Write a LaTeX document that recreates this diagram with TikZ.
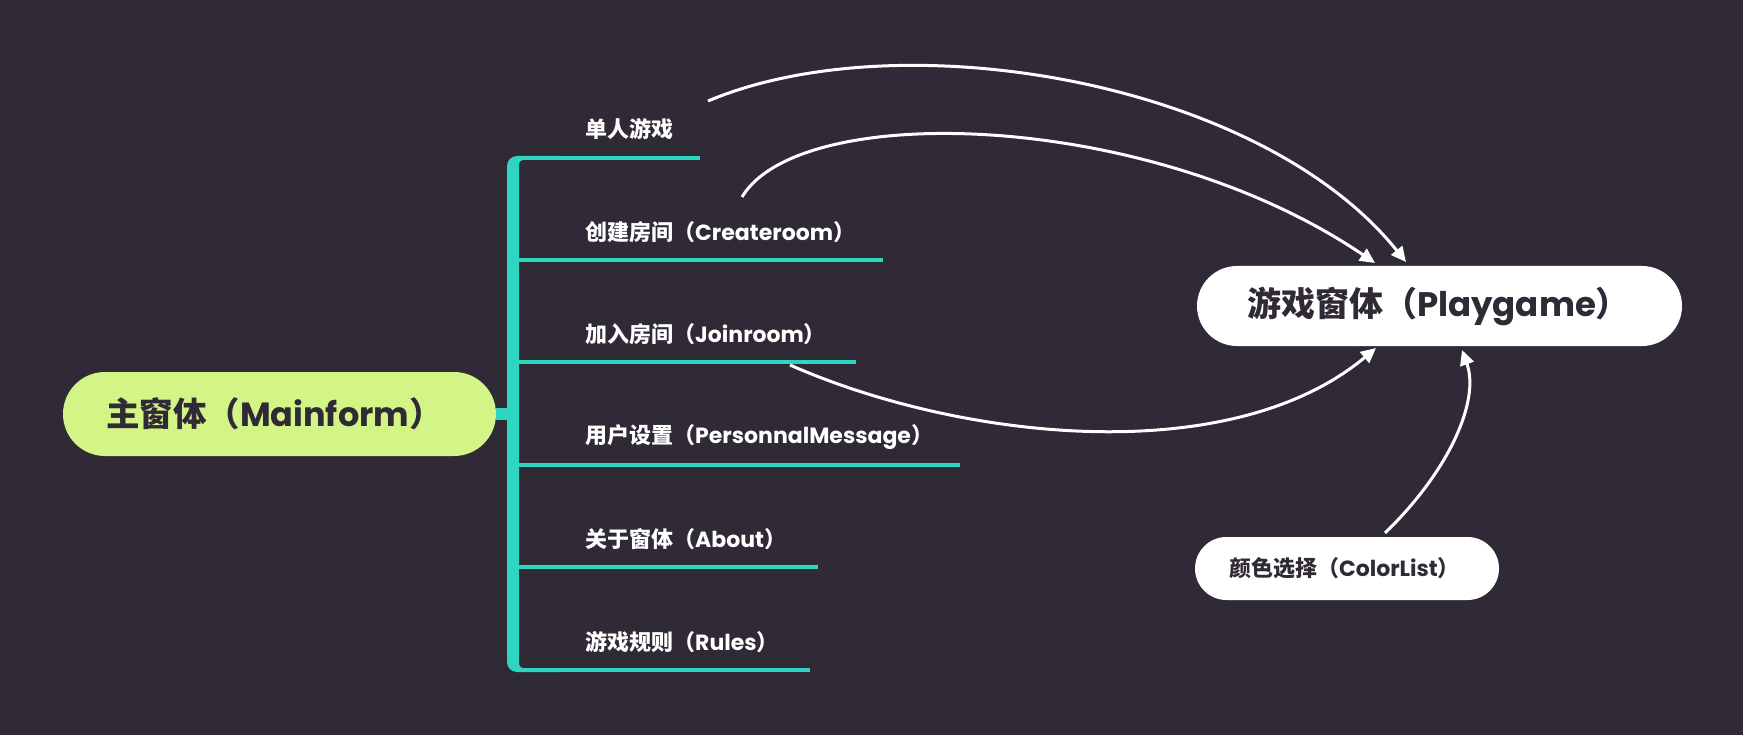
\documentclass[tikz,border=0pt]{standalone}
\usepackage{fontspec}
\usetikzlibrary{arrows.meta}
\setmainfont{Poppins}
\newfontfamily\cjk{Noto Sans CJK SC}
\newfontfamily\lat{Poppins}
\definecolor{bg}{HTML}{2F2A35}
\definecolor{tl}{HTML}{2ED6C2}
\definecolor{lime}{HTML}{D3F585}
\newcommand\mixtxt[2]{{\cjk\bfseries #1（}{\lat\bfseries #2}{\cjk\bfseries ）}}
\tikzset{
  pill/.style={draw=none, inner ysep=0pt, align=left, text=bg},
  item/.style={anchor=west, inner sep=0pt, text=white, font=\fontsize{22}{26}\selectfont},
  branch/.style={draw=tl, line width=4pt},
  arr/.style={draw=white, line width=3pt, -{Triangle[length=15pt,width=14pt]}}
}
\begin{document}
\begin{tikzpicture}[x=1pt,y=-1pt]
\fill[bg] (0,0) rectangle (1743,735);
\useasboundingbox (0,0) rectangle (1743,735);

% bracket
\fill[tl] (559,156) -- (517,156) arc[start angle=90,end angle=180,radius=10pt]
  -- (507,662) arc[start angle=180,end angle=270,radius=10pt]
  -- (559,672) -- (559,668) -- (523,668) arc[start angle=270,end angle=180,radius=4pt]
  -- (519,164) arc[start angle=180,end angle=90,radius=4pt] -- (559,160) -- cycle;

% main node
\node[pill, fill=lime, minimum height=84, text width=347, inner xsep=43, rounded corners=42]
  (main) at (279.5,414) {\fontsize{33.5}{36}\selectfont\mixtxt{主窗体}{Mainform}};
\coordinate (bar) at (513,414);
\draw[tl, line width=12pt] (main.east) -- (bar);

% branch items
\node[item] (i1) at (585,129) {\cjk\bfseries 单人游戏};
\node[item] (i2) at (585,232) {\mixtxt{创建房间}{Createroom}};
\node[item] (i3) at (585,334) {\mixtxt{加入房间}{Joinroom}};
\node[item] (i4) at (585,437) {\mixtxt{用户设置}{PersonnalMessage}};
\node[item] (i5) at (585,539) {\mixtxt{关于窗体}{About}};
\node[item] (i6) at (585,642) {\mixtxt{游戏规则}{Rules}};

\coordinate (b1) at (517,158); \coordinate (e1) at (700,158);
\coordinate (b2) at (517,260); \coordinate (e2) at (883,260);
\coordinate (b3) at (517,362); \coordinate (e3) at (856,362);
\coordinate (b4) at (517,465); \coordinate (e4) at (960,465);
\coordinate (b5) at (517,567); \coordinate (e5) at (818,567);
\coordinate (b6) at (517,670); \coordinate (e6) at (810,670);
\foreach \k in {1,...,6}{\draw[branch] (b\k) -- (e\k);}

% right nodes
\node[pill, fill=white, minimum height=80, text width=385, inner xsep=50, rounded corners=40]
  (play) at (1439.5,306) {\fontsize{34}{37}\selectfont\mixtxt{游戏窗体}{Playgame}};
\node[pill, fill=white, minimum height=63, text width=236, inner xsep=34, rounded corners=31.5]
  (color) at (1347,568.5) {\fontsize{22}{26}\selectfont\mixtxt{颜色选择}{ColorList}};

% arrows
\coordinate (s1) at (708,101);  \coordinate (t1) at (1406,262);
\coordinate (s2) at (742,197);  \coordinate (t2) at (1375,263);
\coordinate (s3) at (790,365);  \coordinate (t3) at (1376,348);
\coordinate (s4) at (1385,533); \coordinate (t4) at (1462,350);
\draw[arr] (s1) .. controls (900,20) and (1260,80) .. (t1);
\draw[arr] (s2) .. controls (800,100) and (1150,110) .. (t2);
\draw[arr] (s3) .. controls (960,440) and (1230,470) .. (t3);
\draw[arr] (s4) .. controls (1450,470) and (1480,400) .. (t4);
\end{tikzpicture}
\end{document}
